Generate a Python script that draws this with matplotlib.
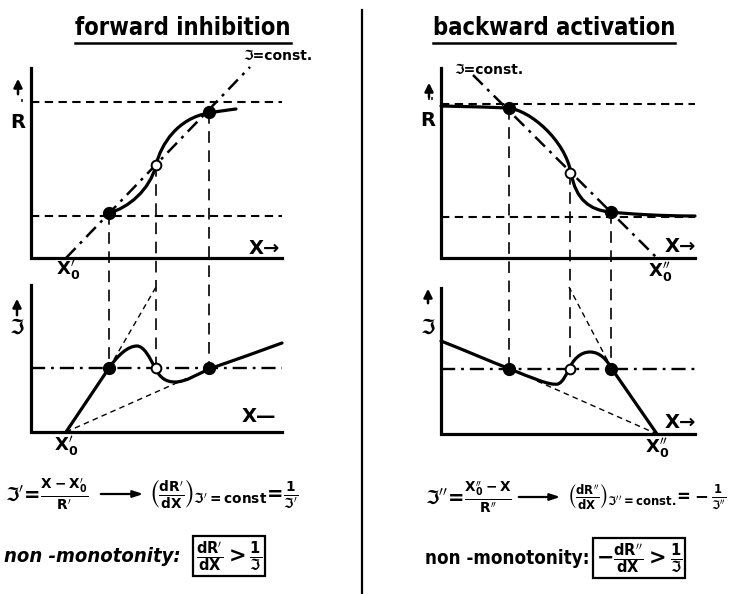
import matplotlib
matplotlib.use("Agg")
import matplotlib.pyplot as plt
from matplotlib.path import Path
from matplotlib.patches import PathPatch

plt.rcParams['mathtext.fontset'] = 'dejavusans'
plt.rcParams['mathtext.default'] = 'bf'
plt.rcParams['font.family'] = ['DejaVu Sans']
plt.rcParams['font.weight'] = 'bold'

J = 'ℑ'

# --- schematic data, in canvas units (x to the right, y downwards) ---
# forward inhibition, R'(X): bezier vertices (start, c1, c2, end, ...)
fi_R = [(109, 213), (128, 208), (150, 190), (156, 165), (161, 144), (178, 118),
        (209, 113), (220, 111), (228, 110), (236, 109)]
fi_line = [(66, 258), (250, 67)]            # J = const.
fi_levels = [102, 216]
fi_fixed_x = [109, 156, 209]
fi_fixed_R = [213, 165, 112]
fi_stable = [True, False, True]

# forward inhibition, J'(X)
fi_J = [(66, 432), (80, 411), (95, 389), (109, 368), (118, 355), (128, 346),
        (137, 346), (144, 346), (150, 358), (155, 368), (160, 378), (166, 382),
        (175, 382), (186, 382), (198, 374), (209, 369), (235, 360), (260, 351),
        (282, 343)]
fi_J_level = 368
fi_tangents = [[(109, 368), (156, 287)], [(66, 432), (190, 377)]]

# backward activation, R''(X)
ba_R = [(441, 106), (470, 106.5), (495, 107.5), (508, 108), (530, 110), (565, 140),
        (571, 173), (576, 200), (590, 210), (610, 212), (630, 214), (660, 216),
        (695, 216)]
ba_line = [(473, 75), (657, 258)]
ba_levels = [104, 217]
ba_fixed_x = [509, 570, 611]
ba_fixed_R = [108, 173, 212]
ba_stable = [True, False, True]

# backward activation, J''(X)
ba_J = [(441, 341), (464, 350), (487, 360), (510, 369), (530, 377), (550, 386),
        (558, 384), (563, 382), (566, 375), (569, 369), (573, 360), (580, 352),
        (590, 352), (600, 352), (607, 360), (612, 369), (627, 391), (642, 412),
        (657, 434)]
ba_J_level = 369
ba_tangents = [[(612, 369), (569, 287)], [(537, 381), (657, 434)]]

# panel frames: (y-axis x, top, bottom, right end)
frames = [(31, 68, 258, 282), (31, 285, 432, 282),
          (441, 68, 258, 695), (441, 288, 434, 695)]

fig = plt.figure(figsize=(7.34, 5.94), dpi=100)
ax = fig.add_axes([0, 0, 1, 1])
ax.set_xlim(0, 734)
ax.set_ylim(594, 0)
ax.axis('off')

K = 'black'


def bez(pts, lw=2.3):
    codes = [Path.MOVETO] + [Path.CURVE4] * (len(pts) - 1)
    ax.add_patch(PathPatch(Path(pts, codes), fill=False, lw=lw, ec=K,
                           capstyle='round', joinstyle='round'))


def seg(p, **kw):
    ax.plot([p[0][0], p[1][0]], [p[0][1], p[1][1]], color=K, **kw)


for x0, top, bot, x1 in frames:
    ax.plot([x0, x0, x1], [top, bot, bot], color=K, lw=2.3,
            solid_joinstyle='miter')

for lev in fi_levels:
    ax.plot([31, 282], [lev, lev], color=K, lw=1.5, dashes=(4, 2.6))
for lev in ba_levels:
    ax.plot([441, 695], [lev, lev], color=K, lw=1.5, dashes=(4, 2.6))
ax.plot([31, 282], [fi_J_level] * 2, color=K, lw=1.7, dashes=(6, 2.5, 1.2, 2.5))
ax.plot([441, 695], [ba_J_level] * 2, color=K, lw=1.7, dashes=(6, 2.5, 1.2, 2.5))
seg(fi_line, lw=1.8, dashes=(5.5, 2.5, 1.2, 2.5))
seg(ba_line, lw=1.8, dashes=(5.5, 2.5, 1.2, 2.5))

for xs, Rs, lev in [(fi_fixed_x, fi_fixed_R, fi_J_level), (ba_fixed_x, ba_fixed_R, ba_J_level)]:
    for x, r in zip(xs, Rs):
        ax.plot([x, x], [r, lev], color=K, lw=1.2, dashes=(7, 4.5))

for t in fi_tangents + ba_tangents:
    seg(t, lw=1.0, dashes=(4, 3))

bez(fi_R)
bez(ba_R)
bez(fi_J)
bez(ba_J)

for xs, Rs, lev, st in [(fi_fixed_x, fi_fixed_R, fi_J_level, fi_stable),
                        (ba_fixed_x, ba_fixed_R, ba_J_level, ba_stable)]:
    for x, r, s in zip(xs, Rs, st):
        for y in (r, lev):
            if s:
                ax.plot(x, y, 'o', ms=8.5, mfc=K, mec=K, zorder=5)
            else:
                ax.plot(x, y, 'o', ms=7, mfc='white', mec=K, mew=1.4, zorder=5)

# divider
ax.plot([362, 362], [10, 594], color=K, lw=1.6)

# titles
titles = []
for tx, txt in [(183, 'forward inhibition'), (554, 'backward activation')]:
    titles.append(ax.text(tx, 28, txt, fontsize=17, fontstretch='condensed',
                          ha='center', va='center'))
fig.canvas.draw()
inv = ax.transData.inverted()
for t in titles:
    bb = t.get_window_extent()
    (xa, ya), (xb, yb) = inv.transform([(bb.x0, bb.y0), (bb.x1, bb.y1)])
    ax.plot([xa, xb], [43, 43], color=K, lw=1.8)

# axis labels
lab = dict(fontsize=14, ha='center', va='center')
arrow = dict(arrowstyle='-|>,head_width=0.25,head_length=0.5', color=K, lw=1.8)
for x, yb, yt in [(18, 97, 76), (17, 318, 296), (429, 100, 80), (428, 306, 286)]:
    ax.annotate('', xy=(x, yt), xytext=(x, yb), arrowprops=arrow)
ax.text(18, 122, 'R', **lab)
ax.text(22, 104, "'", fontsize=9, ha='center', va='center')
ax.text(428, 120, 'R', **lab)
ax.text(431, 102, "''", fontsize=9, ha='center', va='center')
ax.text(17, 328, J, fontsize=15, ha='center', va='center')
ax.text(428, 328, J, fontsize=15, ha='center', va='center')

ax.text(264, 249, 'X→', **lab)
ax.text(259, 417, 'X—', **lab)
ax.text(680, 247, 'X→', **lab)
ax.text(680, 423, 'X→', **lab)

ax.text(68, 270, r"$X_0'$", fontsize=13, ha='center', va='center')
ax.text(66, 446, r"$X_0'$", fontsize=13, ha='center', va='center')
ax.text(660, 272, r"$X_0''$", fontsize=13, ha='center', va='center')
ax.text(657, 448, r"$X_0''$", fontsize=13, ha='center', va='center')

ax.text(278, 56, J + '=const.', fontsize=10, ha='center', va='center')
ax.text(489, 70, J + '=const.', fontsize=10, ha='center', va='center')

# formulas
ax.text(5, 494, r"$%s'\!=\!\frac{X-X_0'}{R'}$" % J, fontsize=14, ha='left', va='center')
ax.annotate('', xy=(146, 494), xytext=(98, 494),
            arrowprops=dict(arrowstyle='-|>,head_width=0.2,head_length=0.6', color=K, lw=1.6))
ax.text(150, 494, r"$\left(\frac{dR'}{dX}\right)_{%s'=\mathrm{const}}\!=\!\frac{1}{%s'}$" % (J, J),
        fontsize=14, ha='left', va='center')

ax.text(425, 497, r"$%s''\!=\!\frac{X_0''-X}{R''}$" % J, fontsize=14, ha='left', va='center')
ax.annotate('', xy=(563, 497), xytext=(516, 497),
            arrowprops=dict(arrowstyle='-|>,head_width=0.2,head_length=0.6', color=K, lw=1.6))
ax.text(568, 497, r"$\left(\frac{dR''}{dX}\right)_{%s''=\mathrm{const.}}\!\!=\!-\frac{1}{%s''}$" % (J, J),
        fontsize=12, ha='left', va='center')

box = dict(boxstyle='square,pad=0.15', fc='white', ec=K, lw=1.6)
ax.text(4, 556, 'non -monotonity:', fontsize=14.5, style='italic', fontstretch='condensed',
        ha='left', va='center')
ax.text(196, 556, r"$\frac{dR'}{dX}>\frac{1}{%s}$" % J, fontsize=15,
        ha='left', va='center', bbox=box)
ax.text(425, 558, 'non -monotonity:', fontsize=13.5, fontstretch='condensed',
        ha='left', va='center')
ax.text(596, 558, r"$-\frac{dR''}{dX}>\frac{1}{%s}$" % J, fontsize=15,
        ha='left', va='center', bbox=box)

fig.savefig('out.png', dpi=100)
